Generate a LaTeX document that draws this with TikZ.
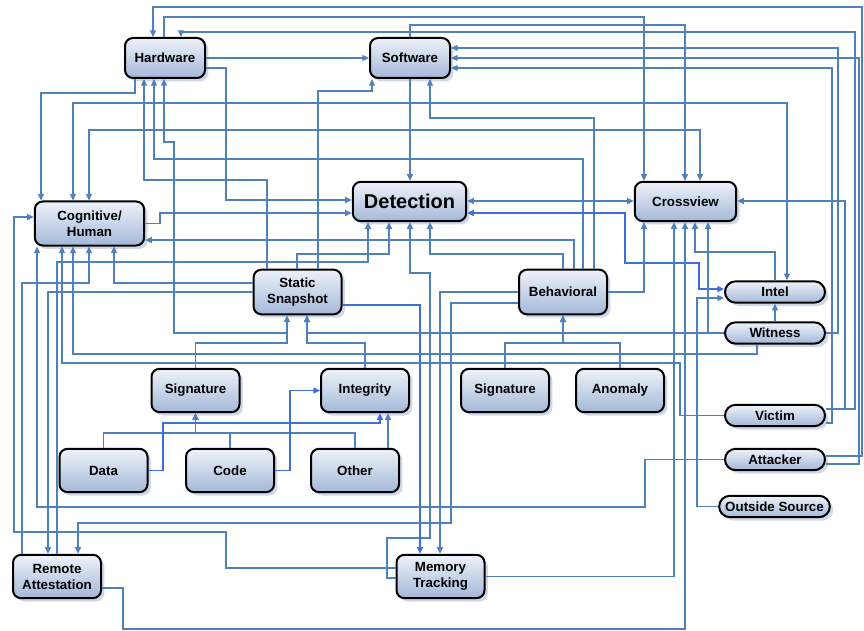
\documentclass[tikz,border=0pt]{standalone}
\usepackage{fontspec}
\setmainfont{Liberation Sans}
\usepackage{tikz}
\usetikzlibrary{arrows.meta, shadows}
\definecolor{wireblue}{RGB}{79,129,189}
\definecolor{hiblue}{RGB}{62,110,222}
\definecolor{boxtop}{RGB}{238,242,249}
\definecolor{boxbot}{RGB}{163,184,216}
\definecolor{shadowc}{RGB}{208,216,232}

\begin{document}
\begin{tikzpicture}[x=0.75pt, y=-0.75pt,
    box/.style={draw=black, line width=1.5pt, rounded corners=6pt, top color=boxtop, bottom color=boxbot,
      drop shadow={shadow xshift=2.5pt, shadow yshift=-2.5pt, fill=shadowc, opacity=1},
      font=\bfseries\fontsize{10}{12}\selectfont, align=center, inner sep=0pt,
      minimum width=66pt, minimum height=32.5pt},
    pill/.style={box, rounded corners=8pt, minimum width=75pt, minimum height=16pt},
    wire/.style={draw=wireblue, line width=0.9pt, -{Triangle[length=5pt,width=4.5pt]}},
    both/.style={{Triangle[length=5pt,width=4.5pt]}-{Triangle[length=5pt,width=4.5pt]}},
    hi/.style={draw=hiblue}]
  \fill[white] (0,0) rectangle (864,631);
  \useasboundingbox (0,0) rectangle (864,631);

  % nodes
  \node[box, minimum width=60pt, minimum height=30pt] (hw) at (165,58) {Hardware};
  \node[box, minimum width=60pt, minimum height=30pt] (sw) at (410,58) {Software};
  \node[box, minimum width=85pt, minimum height=29.5pt, font=\bfseries\fontsize{15}{17}\selectfont] (det) at (409.5,201.5) {Detection};
  \node[box, minimum width=76pt, minimum height=29.5pt] (cv) at (685.5,201.5) {Crossview};
  \node[box, minimum width=82pt, minimum height=33pt] (cog) at (89.5,223.5) {Cognitive/\\Human};
  \node[box, minimum height=33.5pt] (ss) at (297.5,292) {Static\\Snapshot};
  \node[box, minimum height=33.5pt] (beh) at (563,292) {Behavioral};
  \node[pill] (intel) at (775,292) {Intel};
  \node[pill] (wit) at (775,333) {Witness};
  \node[pill] (victim) at (775,415.5) {Victim};
  \node[pill] (attacker) at (775,459.5) {Attacker};
  \node[pill, minimum width=83pt] (outside) at (774.5,506.5) {Outside Source};
  \node[box] (sigl) at (195.5,390.5) {Signature};
  \node[box] (integ) at (365,390.5) {Integrity};
  \node[box] (sigr) at (505,390.5) {Signature};
  \node[box] (anom) at (620,390.5) {Anomaly};
  \node[box] (data) at (103.5,470.5) {Data};
  \node[box] (code) at (230,470.5) {Code};
  \node[box] (other) at (355,470.5) {Other};
  \node[box] (ra) at (57,576.5) {Remote\\Attestation};
  \node[box] (mt) at (440.5,576.5) {Memory\\Tracking};

  % connectors, top
  \draw[wire] (attacker.east |- 0,456) -- (862,456) -- (862,7) -- (153,7) -- (153,0 |- hw.north);
  \draw[wire] (attacker.east |- 0,464) -- (859,464) -- (859,58) -- (sw.east |- 0,58);
  \draw[wire] (164,0 |- hw.north) -- (164,17) -- (644,17) -- (644,0 |- cv.north);
  \draw[wire] (410,0 |- sw.north) -- (410,25) -- (685,25) -- (685,0 |- cv.north);
  \draw[wire] (victim.east |- 0,409) -- (855,409) -- (855,32) -- (181,32) -- (181,0 |- hw.north);
  \draw[wire] (wit.east) -- (838,333) -- (838,48) -- (sw.east |- 0,48);
  \draw[wire] (victim.east |- 0,423) -- (832,423) -- (832,68) -- (sw.east |- 0,68);
  \draw[wire] (victim.east |- 0,409) -- (845,409) -- (845,201) -- (cv.east |- 0,201);
  \draw[wire] (hw.east) -- (sw.west);
  \draw[wire] (135,0 |- hw.south) -- (135,93) -- (41,93) -- (41,0 |- cog.north);
  \draw[wire] (hw.east |- 0,68) -- (226,68) -- (226,200) -- (det.west |- 0,200);
  \draw[wire, both] (73,0 |- cog.north) -- (73,103) -- (787,103) -- (787,0 |- intel.north);
  \draw[wire, both] (89,0 |- cog.north) -- (89,130) -- (700,130) -- (700,0 |- cv.north);
  \draw[wire] (267,0 |- ss.north) -- (267,180) -- (144,180) -- (144,0 |- hw.south);
  \draw[wire] (583,0 |- beh.north) -- (583,159) -- (154,159) -- (154,0 |- hw.south);
  \draw[wire] (318,0 |- ss.north) -- (318,91) -- (372,91) -- (372,0 |- sw.south);
  \draw[wire] (594,0 |- beh.north) -- (594,118) -- (430,118) -- (430,0 |- sw.south);
  \draw[wire] (410,0 |- sw.south) -- (410,0 |- det.north);

  % connectors, middle
  \draw[wire] (cog.east) -- (160,223.5) -- (160,213) -- (det.west |- 0,213);
  \draw[wire] (574,0 |- beh.north) -- (574,240) -- (cog.east |- 0,240);
  \draw[wire, both] (det.east |- 0,201) -- (cv.west |- 0,201);
  \draw[wire, both, hi] (intel.west |- 0,289) -- (699,289) -- (699,263) -- (625,263) -- (625,213) -- (det.east |- 0,213);
  \draw[wire] (outside.west) -- (697,506.5) -- (697,298) -- (intel.west |- 0,298);
  \draw[wire] (beh.east) -- (644,292) -- (644,0 |- cv.south);
  \draw[wire] (intel.north) -- (775,252) -- (695,252) -- (695,0 |- cv.south);
  \draw[wire] (wit.west) -- (708,333) -- (708,0 |- cv.south);
  \draw[wire] (mt.east) -- (674,576.5) -- (674,0 |- cv.south);
  \draw[wire] (ra.east |- 0,588) -- (123,588) -- (123,629) -- (685,629) -- (685,0 |- cv.south);
  \draw[wire] (wit.north) -- (intel.south);
  \draw[wire] (mt.west |- 0,578) -- (387,578) -- (387,538) -- (430,538) -- (430,273) -- (410,273) -- (410,0 |- det.south);
  \draw[wire, hi] (ss.east |- 0,305) -- (420,305) -- (420,0 |- mt.north);
  \draw[wire] (beh.west |- 0,292) -- (440,292) -- (440,0 |- mt.north);
  \draw[wire] (beh.west |- 0,303) -- (451,303) -- (451,523) -- (78,523) -- (78,0 |- ra.north);
  \draw[wire] (563,0 |- beh.north) -- (563,254) -- (430,254) -- (430,0 |- det.south);
  \draw[wire] (297,0 |- ss.north) -- (297,254) -- (389,254) -- (389,0 |- det.south);
  \draw[wire] (57,0 |- ra.north) -- (57,262) -- (368,262) -- (368,0 |- det.south);

  % connectors into Cognitive/Human
  \draw[wire] (victim.west) -- (680,415.5) -- (680,363) -- (62,363) -- (62,0 |- cog.south);
  \draw[wire] (757,0 |- wit.south) -- (757,354) -- (73,354) -- (73,0 |- cog.south);
  \draw[wire] (22,0 |- ra.north) -- (22,283) -- (89,283) -- (89,0 |- cog.south);
  \draw[wire] (ss.west |- 0,283) -- (114,283) -- (114,0 |- cog.south);
  \draw[wire] (attacker.west) -- (645,459.5) -- (645,507) -- (37,507) -- (37,0 |- cog.south);
  \draw[wire] (mt.west |- 0,568) -- (226,568) -- (226,532) -- (14,532) -- (14,217) -- (cog.west |- 0,217);
  \draw[wire] (ss.west |- 0,292) -- (48,292) -- (48,0 |- ra.north);

  % lower groups
  \draw[wire] (sigl.north) -- (195.5,343) -- (287,343) -- (287,333) -- (174,333) -- (174,142) -- (164,142) -- (164,0 |- hw.south);
  \draw[wire] (sigl.north) -- (195.5,343) -- (287,343) -- (287,0 |- ss.south);
  \draw[wire] (integ.north) -- (365,343) -- (307,343) -- (307,0 |- ss.south);
  \draw[wire] (wit.west) -- (307,333) -- (307,0 |- ss.south);
  \draw[wire] (sigr.north) -- (505,343) -- (563,343) -- (563,0 |- beh.south);
  \draw[wire] (anom.north) -- (620,343) -- (563,343) -- (563,0 |- beh.south);
  \draw[wire] (data.north) -- (103.5,433) -- (195.5,433) -- (sigl.south);
  \draw[wire] (code.north) -- (230,433) -- (195.5,433) -- (sigl.south);
  \draw[wire] (355,0 |- other.north) -- (355,433) -- (195.5,433) -- (sigl.south);
  \draw[wire, hi] (data.east) -- (163,470.5) -- (163,423) -- (380,423) -- (380,0 |- integ.south);
  \draw[wire, hi] (code.east) -- (290,470.5) -- (290,390.5) -- (integ.west);
  \draw[wire] (388,0 |- other.north) -- (388,0 |- integ.south);
\end{tikzpicture}
\end{document}
